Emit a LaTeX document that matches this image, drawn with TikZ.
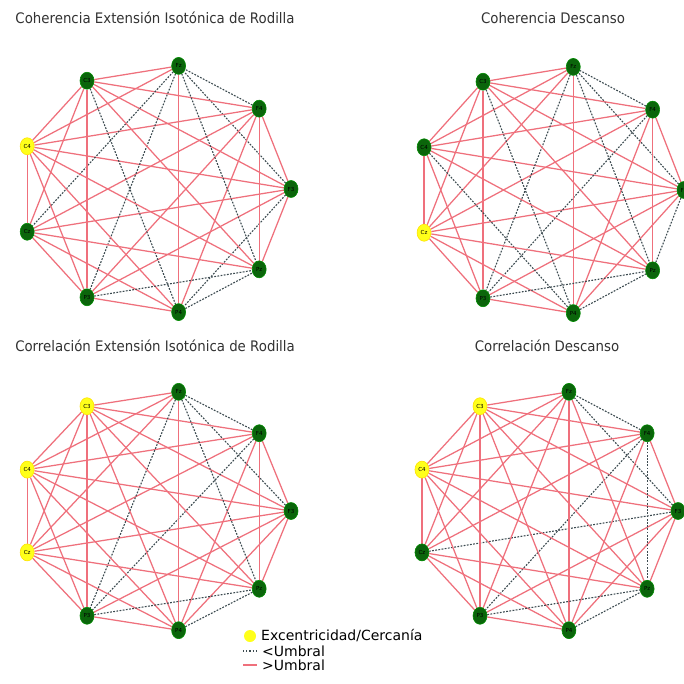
\documentclass[tikz,border=0pt]{standalone}
\usepackage{fontspec}
\setmainfont{DejaVu Sans}
\newfontfamily\titlefont[FakeStretch=0.92]{DejaVu Sans}
\usetikzlibrary{shapes.geometric,backgrounds}
\definecolor{chgreen}{HTML}{0B650B}
\definecolor{chyellow}{HTML}{FFFF1A}
\definecolor{linkred}{HTML}{EF707C}
\definecolor{linkgray}{HTML}{3C4A50}
\definecolor{titleink}{HTML}{333333}
\tikzset{chan/.style={ellipse,draw=green!55!black,line width=.6pt,fill=chgreen,minimum width=14pt,minimum height=17pt,inner sep=0pt,font=\fontsize{5.5}{6}\selectfont},hub/.style={fill=chyellow,draw=yellow!85!orange},strong/.style={draw=linkred,line width=1.25pt},weak/.style={draw=linkgray,line width=1.1pt,dash pattern=on 1.8pt off 1.4pt},plottitle/.style={font=\titlefont\fontsize{14.5}{16}\selectfont,text=titleink,inner sep=0pt},legtext/.style={font=\fontsize{14}{16}\selectfont,anchor=west,inner sep=0pt}}

% nine channels on an ellipse: prefix, centre x, centre y, radius x, radius y
\newcommand{\channelnet}[5]{%
  \foreach \i/\lab in {0/F3,1/F4,2/Fz,3/C3,4/C4,5/Cz,6/P3,7/P4,8/Pz}{%
    \edef\chnode{\noexpand\node[chan,#1 \i/.try] (#1\i) at ({#2+#4*cos(40*\i)},{#3-#5*sin(40*\i)}) {\lab};}%
    \chnode}%
  \begin{scope}[on background layer]
  \foreach \i in {0,...,7}{%
    \pgfmathtruncatemacro\nxt{\i+1}%
    \foreach \j in {\nxt,...,8}{%
      \edef\chedge{\noexpand\draw[strong,#1 \i-\j/.try] (#1\i) -- (#1\j);}%
      \chedge}}%
  \end{scope}}

\begin{document}
\begin{tikzpicture}[x=1pt,y=-1pt]
\useasboundingbox (0,0) rectangle (684,684);
\begin{scope}[on background layer]
\fill[white] (0,0) rectangle (684,684);
\end{scope}

% which links fall under the threshold, and which channels stand out
\tikzset{tl 4/.style=hub,tl 1-2/.style=weak,tl 0-2/.style=weak,tl 2-8/.style=weak,tl 2-5/.style=weak,tl 2-6/.style=weak,tl 3-7/.style=weak,tl 0-7/.style=weak,tl 7-8/.style=weak,tl 6-8/.style=weak}
\tikzset{tr 5/.style=hub,tr 1-2/.style=weak,tr 0-2/.style=weak,tr 2-8/.style=weak,tr 2-6/.style=weak,tr 3-7/.style=weak,tr 4-7/.style=weak,tr 1-6/.style=weak,tr 0-8/.style=weak,tr 6-8/.style=weak,tr 7-8/.style=weak}
\tikzset{bl 3/.style=hub,bl 4/.style=hub,bl 5/.style=hub,bl 1-2/.style=weak,bl 0-2/.style=weak,bl 2-6/.style=weak,bl 2-8/.style=weak,bl 1-6/.style=weak,bl 6-8/.style=weak,bl 7-8/.style=weak}
\tikzset{br 3/.style=hub,br 4/.style=hub,br 1-2/.style=weak,br 0-2/.style=weak,br 1-8/.style=weak,br 1-6/.style=weak,br 0-5/.style=weak,br 6-8/.style=weak,br 7-8/.style=weak}

\channelnet{tl}{155}{189}{136}{125}
\channelnet{tr}{550}{190}{134}{125}
\channelnet{bl}{155}{511}{136}{121}
\channelnet{br}{546}{511}{132}{121}

\node[plottitle] (ttl) at (155,18) {Coherencia Extensión Isotónica de Rodilla};
\node[plottitle] (ttr) at (553,18) {Coherencia Descanso};
\node[plottitle] (tbl) at (155,346) {Correlación Extensión Isotónica de Rodilla};
\node[plottitle] (tbr) at (547,346) {Correlación Descanso};

% legend
\node[circle,fill=chyellow,minimum size=12pt,inner sep=0pt] (legdot) at (250,636) {};
\node[legtext] (leghub) at (261,636) {Excentricidad/Cercanía};
\node[legtext] (legweak) at (262,651) {<Umbral};
\node[legtext] (legstrong) at (262,665) {>Umbral};
\coordinate (wa) at (243,651); \coordinate (sa) at (243,665);
\draw[draw=linkgray,line width=1.2pt,dash pattern=on 1.2pt off 2pt] (wa) -- ([xshift=-5pt]legweak.west);
\draw[draw=linkred,line width=1.4pt] (sa) -- ([xshift=-5pt]legstrong.west);
\end{tikzpicture}
\end{document}
